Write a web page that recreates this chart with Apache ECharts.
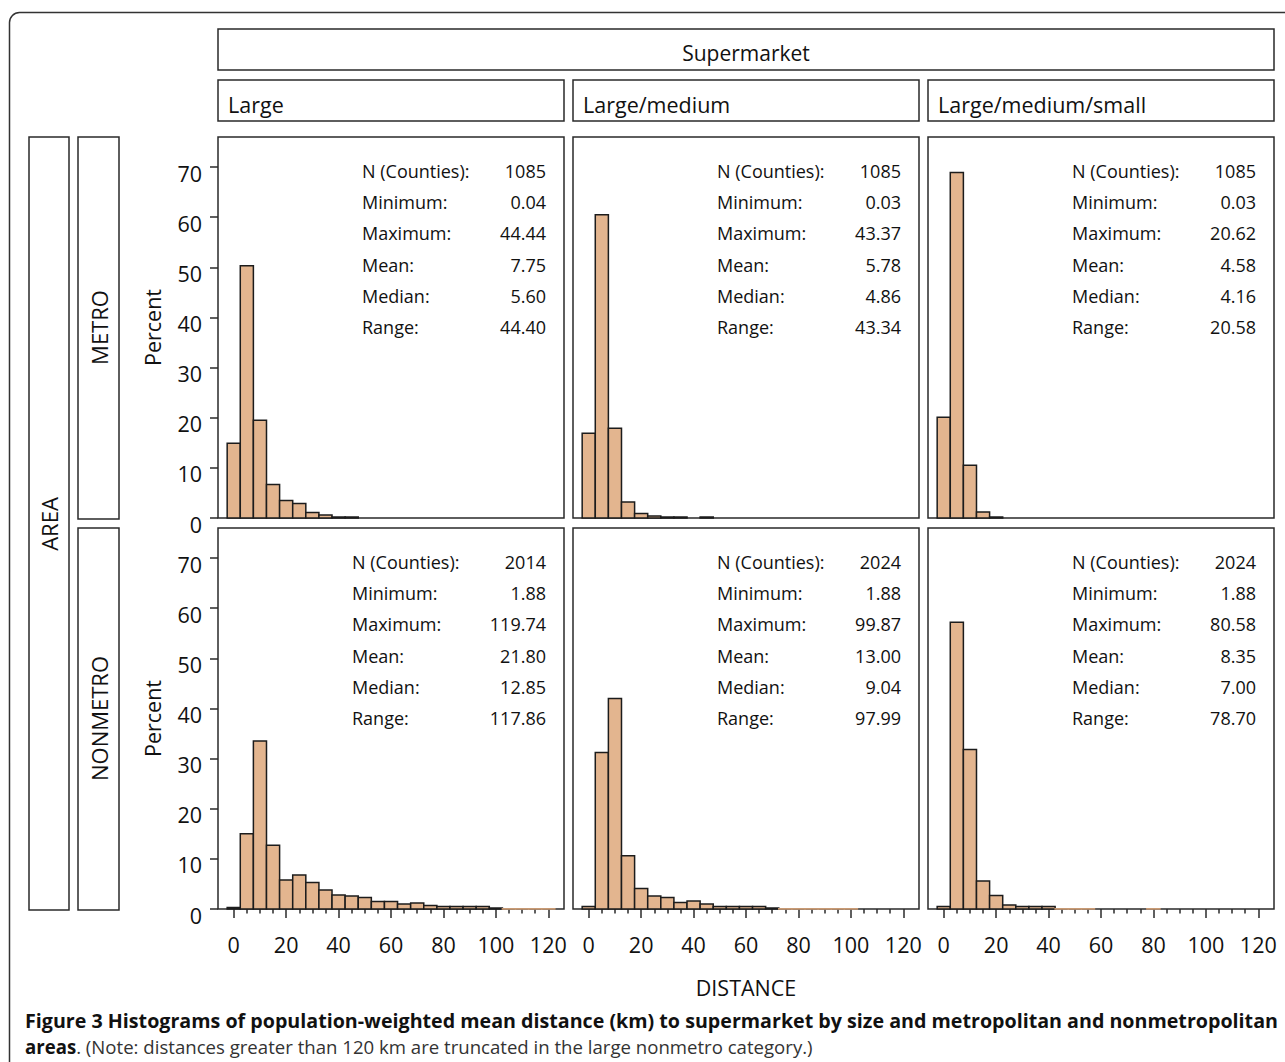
<!DOCTYPE html>
<html><head><meta charset="utf-8">
<script src="https://cdn.jsdelivr.net/npm/echarts@6/dist/echarts.min.js"></script>
<style>html,body{margin:0;padding:0;background:#fff}#c{width:1285px;height:1062px}</style>
</head><body><div id="c"></div>
<script>
// ---------- data ----------
const binCenters = [0,5,10,15,20,25,30,35,40,45,50,55,60,65,70,75,80,85,90,95,100,105,110,115,120];
const binWidth = 5;
const metroLarge       = [14.9,50.3,19.5,6.7,3.5,2.9,1.1,0.6,0.2,0.2];
const metroLargeMedium = [16.9,60.5,17.9,3.2,0.9,0.4,0.2,0.2,null,0.2];
const metroLMS         = [20.1,68.9,10.5,1.2,0.2];
const nonmetroLarge    = [0.3,15.0,33.5,12.7,5.8,6.8,5.3,3.8,2.8,2.6,2.3,1.5,1.5,1.0,1.2,0.7,0.5,0.5,0.5,0.5,0.2,0.05,0.05,0.05,0.05];
const nonmetroLM       = [0.5,31.2,42.0,10.6,4.1,2.6,2.3,1.3,1.6,1.0,0.5,0.5,0.5,0.5,0.2,0.05,0.05,0.05,0.05,0.05,0.05];
const nonmetroLMS      = [0.5,57.2,31.8,5.6,2.7,0.8,0.5,0.5,0.5,0.05,0.05,0.05,null,null,null,null,0.05];

const xTickLabels = [0,20,40,60,80,100,120];
const xMinorTicks = [5,10,15,25,30,35,45,50,55,65,70,75,85,90,95,105,110,115];
const yTickLabels = [0,10,20,30,40,50,60,70];

const columnNames = ['Large','Large/medium','Large/medium/small'];
const rowNames = ['METRO','NONMETRO'];
const statLabels = ['N (Counties):','Minimum:','Maximum:','Mean:','Median:','Range:'];
const metroLargeStats       = ['1085','0.04','44.44','7.75','5.60','44.40'];
const metroLargeMediumStats = ['1085','0.03','43.37','5.78','4.86','43.34'];
const metroLMSStats         = ['1085','0.03','20.62','4.58','4.16','20.58'];
const nonmetroLargeStats    = ['2014','1.88','119.74','21.80','12.85','117.86'];
const nonmetroLMStats       = ['2024','1.88','99.87','13.00','9.04','97.99'];
const nonmetroLMSStats      = ['2024','1.88','80.58','8.35','7.00','78.70'];

const panelValues = [metroLarge, metroLargeMedium, metroLMS, nonmetroLarge, nonmetroLM, nonmetroLMS];
const panelStats = [metroLargeStats, metroLargeMediumStats, metroLMSStats, nonmetroLargeStats, nonmetroLMStats, nonmetroLMSStats];

// ---------- layout ----------
const FONT = '"Open Sans", "Noto Sans", sans-serif';
const colLeft = [218,573,928], panelW = 346;
const rowTop = [137,528], panelH = 381;
const statLabelOffset = [144,144,144,134,144,144];
const LINE = '#2a2a2a';

const grids = [], xAxes = [], yAxes = [], series = [], graphics = [];
for (let i = 0; i < 6; i++) {
  const r = Math.floor(i/3), c = i % 3;
  grids.push({left: colLeft[c], top: rowTop[r], width: panelW, height: panelH,
    show: true, borderColor: LINE, borderWidth: 1.5, backgroundColor: 'transparent', outerBoundsMode: 'none'});
  xAxes.push({gridIndex: i, type: 'value', min: -6, max: 126, position: 'bottom',
    axisLine: {show: false, onZero: false}, splitLine: {show: false},
    axisTick: {show: r === 1, length: 9, customValues: xTickLabels, lineStyle: {color: LINE, width: 1.5}},
    axisLabel: {show: r === 1, customValues: xTickLabels, fontFamily: FONT, fontSize: 21.5, color: '#111', margin: 24}});
  yAxes.push({gridIndex: i, type: 'value', min: 0, max: 76, position: 'left',
    axisLine: {show: false, onZero: false}, splitLine: {show: false},
    axisTick: {show: c === 0, length: 8, customValues: yTickLabels, lineStyle: {color: LINE, width: 1.5}},
    axisLabel: {show: c === 0, customValues: yTickLabels, fontFamily: FONT, fontSize: 21.5, color: '#111', margin: 16,
      verticalAlign: 'top', lineHeight: 12}});
  const vals = panelValues[i];
  series.push({type: 'custom', xAxisIndex: i, yAxisIndex: i, silent: true,
    data: binCenters.map((b, k) => [b, vals[k]]).filter(d => d[1] != null),
    renderItem: function (params, api) {
      const b = api.value(0), v = api.value(1);
      const p1 = api.coord([b - binWidth/2, v]);
      const p2 = api.coord([b + binWidth/2, 0]);
      return {type: 'rect', shape: {x: p1[0], y: p1[1], width: p2[0]-p1[0], height: p2[1]-p1[1]},
        style: {fill: '#E3B58F', stroke: v < 0.1 ? '#C89A74' : '#1c1c1c', lineWidth: 1.5}};
    }});
  // stats text
  const stats = panelStats[i];
  statLabels.forEach((lab, k) => {
    const y = rowTop[r] + 34 + 31.2*k;
    graphics.push({type:'text', x: colLeft[c] + statLabelOffset[i], y: y,
      style:{text: lab, font: '18px ' + FONT, fill:'#111', align:'left', verticalAlign:'middle'}});
    graphics.push({type:'text', x: colLeft[c] + 328, y: y,
      style:{text: stats[k], font: '18px ' + FONT, fill:'#111', align:'right', verticalAlign:'middle'}});
  });
}
// minor x ticks on bottom row
for (let c = 0; c < 3; c++) {
  xAxes.push({gridIndex: 3 + c, type: 'value', min: -6, max: 126, position: 'bottom',
    axisLine: {show: false, onZero: false}, splitLine: {show: false}, axisLabel: {show: false},
    axisTick: {show: true, length: 4.5, customValues: xMinorTicks, lineStyle: {color: LINE, width: 1.5}}});
}

function box(x, y, w, h) {
  return {type:'rect', shape:{x:x, y:y, width:w, height:h}, style:{fill:'none', stroke: LINE, lineWidth:1.5}};
}
// outer rounded frame
graphics.push({type:'rect', shape:{x:9.5, y:12.5, width:1320, height:1120, r:10}, style:{fill:'none', stroke:'#333', lineWidth:1.5}});
// supermarket header
graphics.push(box(218, 29, 1056, 41));
graphics.push({type:'text', x:746, y:53, style:{text:'Supermarket', font:'21px ' + FONT, fill:'#111', align:'center', verticalAlign:'middle'}});
for (let c = 0; c < 3; c++) {
  graphics.push(box(colLeft[c], 80, panelW, 41));
  graphics.push({type:'text', x: colLeft[c] + 10, y: 104, style:{text: columnNames[c], font:'21.5px ' + FONT, fill:'#111', align:'left', verticalAlign:'middle'}});
}
// row strips
graphics.push(box(29, 137, 40, 773));
graphics.push({type:'text', x:49, y:524, rotation: Math.PI/2, style:{text:'AREA', font:'22px ' + FONT, fill:'#111', align:'center', verticalAlign:'middle'}});
for (let r = 0; r < 2; r++) {
  graphics.push(box(78, rowTop[r], 41, panelH + 1));
  graphics.push({type:'text', x:99, y: rowTop[r] + panelH/2, rotation: Math.PI/2, style:{text: rowNames[r], font:'22px ' + FONT, fill:'#111', align:'center', verticalAlign:'middle'}});
  graphics.push({type:'text', x:152, y: rowTop[r] + panelH/2, rotation: Math.PI/2, style:{text: 'Percent', font:'21.5px ' + FONT, fill:'#111', align:'center', verticalAlign:'middle'}});
}
graphics.push({type:'text', x:746, y:987, style:{text:'DISTANCE', font:'21.5px ' + FONT, fill:'#111', align:'center', verticalAlign:'middle'}});

// caption
const cap1 = 'Figure 3 Histograms of population-weighted mean distance (km) to supermarket by size and metropolitan and nonmetropolitan';
const cap2a = 'areas', cap2b = '. (Note: distances greater than 120 km are truncated in the large nonmetro category.)';
const mctx = document.createElement('canvas').getContext('2d');
function textW(t, f) { mctx.font = f; return mctx.measureText(t).width; }
const f1 = 'bold 20px "Open Sans"', f2b = 'bold 19px "Open Sans"', f2 = '19px "Open Sans"';
const s1 = 1253 / textW(cap1, f1);
const s2 = 788 / (textW(cap2a, f2b) + textW(cap2b, f2));
graphics.push({type:'text', x:25, y:1020, scaleX: s1, style:{text: cap1, font: f1, fill:'#111', align:'left', verticalAlign:'middle'}});
graphics.push({type:'text', x:25, y:1047, scaleX: s2, style:{text: '{b|' + cap2a + '}{n|' + cap2b + '}', align:'left', verticalAlign:'middle',
  rich:{b:{fontFamily:'Open Sans', fontWeight:'bold', fontSize:19, fill:'#111'}, n:{fontFamily:'Open Sans', fontSize:19, fill:'#333'}}}});

const chart = echarts.init(document.getElementById('c'), null, {renderer: 'svg'});
chart.setOption({
  animation: false,
  backgroundColor: '#fff',
  grid: grids, xAxis: xAxes, yAxis: yAxes, series: series,
  graphic: {elements: graphics}
});
</script></body></html>
